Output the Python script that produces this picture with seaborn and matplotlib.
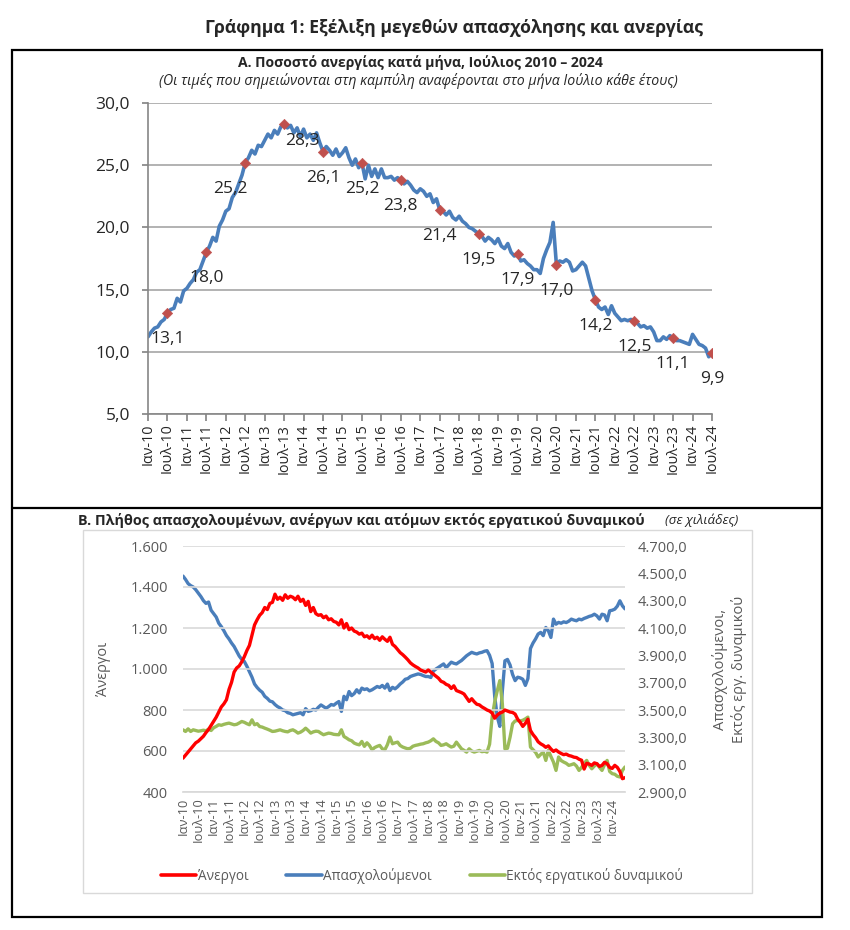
import numpy as np
import pandas as pd
import seaborn as sns
import matplotlib.pyplot as plt
from matplotlib.patches import Rectangle
from matplotlib.ticker import FuncFormatter, MultipleLocator, FixedLocator

# Ποσοστό ανεργίας (%), μηνιαία, Ιαν 2010 - Ιουλ 2024
rate_by_year = {
    2010: [11.2, 11.6, 11.9, 12.0, 12.4, 12.6, 13.1, 13.4, 13.5, 14.3, 14.0, 14.9],
    2011: [15.1, 15.5, 15.8, 16.4, 16.6, 17.3, 18.0, 18.5, 19.2, 18.9, 20.1, 20.6],
    2012: [21.3, 21.5, 22.4, 22.8, 23.5, 24.2, 25.2, 25.6, 26.2, 25.9, 26.6, 26.5],
    2013: [27.0, 27.5, 27.2, 27.8, 27.5, 28.1, 28.3, 28.0, 28.2, 27.6, 28.0, 27.3],
    2014: [27.9, 27.2, 27.5, 27.0, 27.6, 26.8, 26.1, 26.5, 26.2, 25.8, 26.3, 25.7],
    2015: [26.0, 26.4, 25.6, 25.0, 25.5, 24.8, 25.2, 23.9, 25.0, 24.1, 24.7, 24.0],
    2016: [24.7, 24.0, 24.0, 24.1, 23.8, 24.0, 23.8, 23.5, 23.7, 23.4, 23.0, 22.8],
    2017: [23.1, 22.9, 22.5, 22.7, 22.0, 22.3, 21.4, 21.3, 21.0, 21.3, 20.8, 20.6],
    2018: [20.9, 20.5, 20.3, 20.0, 19.9, 19.7, 19.5, 19.3, 18.9, 19.2, 19.0, 18.7],
    2019: [19.1, 18.5, 18.3, 18.7, 18.0, 17.7, 17.9, 17.3, 17.4, 17.1, 16.9, 16.6],
    2020: [16.6, 16.3, 17.5, 18.2, 18.8, 20.4, 17.0, 17.3, 17.2, 17.4, 17.2, 16.5],
    2021: [16.6, 16.9, 17.2, 16.9, 15.9, 14.9, 14.2, 13.6, 13.4, 13.6, 13.0, 13.7],
    2022: [13.1, 12.8, 12.5, 12.6, 12.5, 12.6, 12.5, 12.3, 12.0, 12.1, 11.9, 12.0],
    2023: [11.6, 10.9, 10.9, 11.2, 11.0, 11.3, 11.1, 10.9, 10.9, 10.8, 10.7, 10.6],
    2024: [11.4, 11.0, 10.6, 10.5, 10.3, 9.6, 9.9],
}

# Χιλιάδες ατόμων, μηνιαία, Ιαν 2010 - Ιουν 2024
unemployed_by_year = {
    2010: [565, 580, 595, 610, 625, 640, 648, 660, 672, 690, 705, 725],
    2011: [745, 765, 790, 815, 830, 850, 900, 935, 985, 1005, 1015, 1035],
    2012: [1060, 1090, 1115, 1165, 1215, 1240, 1262, 1275, 1300, 1290, 1320, 1325],
    2013: [1365, 1340, 1350, 1335, 1362, 1345, 1355, 1350, 1338, 1355, 1330, 1340],
    2014: [1310, 1330, 1280, 1300, 1270, 1262, 1265, 1250, 1258, 1240, 1245, 1232],
    2015: [1228, 1215, 1240, 1200, 1222, 1192, 1200, 1185, 1180, 1170, 1175, 1157],
    2016: [1162, 1150, 1165, 1148, 1155, 1140, 1157, 1145, 1135, 1155, 1120, 1110],
    2017: [1095, 1080, 1070, 1058, 1045, 1030, 1020, 1012, 1005, 995, 990, 985],
    2018: [995, 985, 975, 965, 955, 940, 935, 925, 920, 905, 918, 895],
    2019: [890, 885, 878, 860, 842, 855, 840, 828, 825, 815, 808, 800],
    2020: [795, 785, 760, 775, 785, 790, 800, 795, 790, 788, 780, 755],
    2021: [740, 720, 735, 755, 700, 680, 665, 645, 635, 628, 618, 625],
    2022: [610, 598, 605, 595, 588, 582, 585, 578, 575, 570, 568, 560],
    2023: [555, 512, 540, 536, 530, 542, 538, 525, 530, 545, 538, 520],
    2024: [515, 530, 520, 500, 465, 470],
}
employed_by_year = {
    2010: [4480, 4455, 4425, 4410, 4400, 4380, 4355, 4330, 4300, 4280, 4290, 4230],
    2011: [4205, 4180, 4135, 4110, 4080, 4045, 4020, 3990, 3965, 3930, 3895, 3870],
    2012: [3855, 3820, 3780, 3740, 3690, 3665, 3645, 3630, 3600, 3585, 3565, 3560],
    2013: [3540, 3525, 3515, 3500, 3495, 3480, 3475, 3465, 3470, 3475, 3480, 3465],
    2014: [3510, 3490, 3495, 3505, 3500, 3520, 3537, 3525, 3513, 3525, 3540, 3535],
    2015: [3550, 3562, 3490, 3600, 3575, 3635, 3605, 3620, 3648, 3625, 3660, 3650],
    2016: [3655, 3640, 3648, 3660, 3672, 3665, 3680, 3660, 3690, 3642, 3666, 3655],
    2017: [3670, 3690, 3705, 3725, 3730, 3745, 3752, 3758, 3764, 3760, 3752, 3745],
    2018: [3745, 3738, 3785, 3800, 3812, 3825, 3837, 3810, 3830, 3850, 3842, 3837],
    2019: [3850, 3862, 3880, 3897, 3910, 3922, 3915, 3910, 3918, 3922, 3930, 3934],
    2020: [3900, 3840, 3600, 3450, 3380, 3640, 3860, 3870, 3830, 3760, 3715, 3740],
    2021: [3735, 3725, 3680, 3730, 3950, 3990, 4020, 4056, 4068, 4044, 4104, 4080],
    2022: [4031, 4165, 4128, 4141, 4135, 4145, 4140, 4150, 4165, 4158, 4153, 4165],
    2023: [4160, 4170, 4177, 4185, 4190, 4201, 4189, 4165, 4201, 4195, 4153, 4226],
    2024: [4230, 4238, 4260, 4299, 4262, 4240],
}
inactive_by_year = {
    2010: [3355, 3343, 3362, 3343, 3355, 3350, 3345, 3348, 3352, 3348, 3360, 3350],
    2011: [3370, 3380, 3392, 3388, 3395, 3400, 3404, 3398, 3392, 3395, 3405, 3416],
    2012: [3410, 3400, 3392, 3428, 3392, 3400, 3379, 3375, 3367, 3360, 3352, 3343],
    2013: [3345, 3350, 3355, 3348, 3343, 3340, 3350, 3355, 3345, 3331, 3338, 3350],
    2014: [3367, 3350, 3331, 3340, 3345, 3343, 3330, 3319, 3325, 3331, 3328, 3322],
    2015: [3320, 3319, 3355, 3306, 3295, 3282, 3275, 3258, 3250, 3245, 3270, 3234],
    2016: [3260, 3240, 3209, 3225, 3234, 3241, 3216, 3209, 3246, 3302, 3253, 3260],
    2017: [3265, 3240, 3229, 3222, 3216, 3220, 3235, 3241, 3245, 3250, 3253, 3260],
    2018: [3265, 3275, 3289, 3270, 3260, 3241, 3245, 3253, 3240, 3229, 3235, 3265],
    2019: [3240, 3216, 3205, 3192, 3216, 3200, 3192, 3198, 3204, 3195, 3198, 3192],
    2020: [3250, 3448, 3560, 3640, 3715, 3545, 3216, 3220, 3300, 3399, 3420, 3423],
    2021: [3420, 3425, 3435, 3448, 3229, 3210, 3190, 3156, 3175, 3192, 3131, 3204],
    2022: [3160, 3119, 3058, 3156, 3130, 3119, 3110, 3095, 3100, 3107, 3090, 3058],
    2023: [3080, 3110, 3131, 3095, 3070, 3090, 3107, 3080, 3058, 3100, 3131, 3050],
    2024: [3034, 3030, 3015, 3010, 3058, 3083],
}

month_names = ["Ιαν", "Φεβ", "Μαρ", "Απρ", "Μαϊ", "Ιουν",
               "Ιουλ", "Αυγ", "Σεπ", "Οκτ", "Νοε", "Δεκ"]

BLUE = "#4A7EBB"
RED = "#FF0000"
GREEN = "#9BBB59"
MARKER = "#C0504D"
GRAY_TXT = "#595959"


def flatten(by_year):
    rows = []
    for year, vals in by_year.items():
        for m, v in enumerate(vals):
            rows.append({"year": year, "month": m, "value": v})
    df = pd.DataFrame(rows)
    df["idx"] = np.arange(len(df))
    df["label"] = [f"{month_names[m]}-{y % 100:02d}" for y, m in zip(df.year, df.month)]
    return df


def fmt_dec(v, _=None):
    return f"{v:.1f}".replace(".", ",")


def fmt_thousands(v, _=None):
    return f"{int(round(v)):,}".replace(",", ".")


def fmt_thousands_dec(v, _=None):
    s = f"{v:,.1f}"
    return s.replace(",", "X").replace(".", ",").replace("X", ".")


sns.set_theme(style="white")
plt.rcParams["font.family"] = ["Open Sans", "DejaVu Sans"]

W, H = 850, 930
fig = plt.figure(figsize=(W / 100, H / 100), dpi=100)


def fx(px):
    return px / W


def fy(py):
    return 1 - py / H


# frames
fig.add_artist(Rectangle((fx(12), fy(917)), fx(822 - 12), (917 - 50) / H,
                         transform=fig.transFigure, fill=False, lw=1.6, ec="black"))
fig.add_artist(plt.Line2D([fx(12), fx(822)], [fy(508), fy(508)],
                          transform=fig.transFigure, lw=1.6, color="black"))
fig.add_artist(Rectangle((fx(83), fy(893)), fx(752 - 83), (893 - 530) / H,
                         transform=fig.transFigure, fill=False, lw=1.0, ec="#D9D9D9"))

fig.text(fx(454), fy(28), "Γράφημα 1: Εξέλιξη μεγεθών απασχόλησης και ανεργίας",
         ha="center", va="center", fontsize=12.7, fontweight="bold")
fig.text(fx(420), fy(62), "Α. Ποσοστό ανεργίας κατά μήνα, Ιούλιος 2010 – 2024",
         ha="center", va="center", fontsize=10.1, fontweight="bold")
fig.text(fx(418), fy(81),
         "(Οι τιμές που σημειώνονται στη καμπύλη αναφέρονται στο μήνα Ιούλιο κάθε έτους)",
         ha="center", va="center", fontsize=10.2, style="italic")

# ---- Panel A ----
rate = flatten(rate_by_year)
ax1 = fig.add_axes([fx(148), fy(414), fx(712 - 148), (414 - 103) / H])
sns.lineplot(data=rate, x="idx", y="value", color=BLUE, lw=2.6, ax=ax1)
july = rate[rate.month == 6]
sns.scatterplot(data=july, x="idx", y="value", color=MARKER, marker="D", s=28,
                edgecolor=MARKER, zorder=5, ax=ax1)
nudges = {2012: (-15, 0), 2013: (18, 9)}
for _, r in july.iterrows():
    dx, dy = nudges.get(r.year, (0, 0))
    ax1.annotate(fmt_dec(r.value), (r.idx, r.value), textcoords="offset pixels",
                 xytext=(dx, -26 + dy), ha="center", va="center", fontsize=12.5)

ax1.set_xlim(0, len(rate) - 1)
ax1.set_ylim(5, 30)
ax1.yaxis.set_major_locator(MultipleLocator(5))
ax1.yaxis.set_major_formatter(FuncFormatter(fmt_dec))
ax1.grid(axis="y", color="#A6A6A6", lw=1.2)
ticks1 = rate.idx[rate.month.isin([0, 6])]
ax1.set_xticks(ticks1)
ax1.set_xticklabels(rate.label[rate.month.isin([0, 6])], rotation=90, fontsize=10.3)
ax1.tick_params(axis="y", labelsize=12.5, length=4, color="#868686", left=True, pad=9)
ax1.tick_params(axis="x", length=5, color="#868686", bottom=True, pad=2)
for s in ["top", "right"]:
    ax1.spines[s].set_visible(False)
for s in ["left", "bottom"]:
    ax1.spines[s].set_color("#868686")
    ax1.spines[s].set_linewidth(1.2)
ax1.set_xlabel("")
ax1.set_ylabel("")

# ---- Panel B ----
fig.text(fx(78), fy(520),
         "Β. Πλήθος απασχολουμένων, ανέργων και ατόμων εκτός εργατικού δυναμικού",
         ha="left", va="center", fontsize=10.4, fontweight="bold")
fig.text(fx(665), fy(520), "(σε χιλιάδες)", ha="left", va="center",
         fontsize=9.6, style="italic")

unemp = flatten(unemployed_by_year)
emp = flatten(employed_by_year)
inact = flatten(inactive_by_year)

ax2 = fig.add_axes([fx(183), fy(792), fx(625 - 183), (792 - 546) / H])
ax3 = ax2.twinx()
sns.lineplot(data=unemp, x="idx", y="value", color=RED, lw=2.4, ax=ax2, zorder=3)
sns.lineplot(data=emp, x="idx", y="value", color=BLUE, lw=2.4, ax=ax3)
sns.lineplot(data=inact, x="idx", y="value", color=GREEN, lw=2.4, ax=ax3)
ax2.set_zorder(ax3.get_zorder() + 1)
ax2.patch.set_visible(False)

ax2.set_xlim(0, len(unemp) - 1)
ax2.set_ylim(400, 1600)
ax3.set_ylim(2900, 4700)
ax2.yaxis.set_major_locator(MultipleLocator(200))
ax3.yaxis.set_major_locator(FixedLocator(np.arange(2900, 4701, 200)))
ax2.yaxis.set_major_formatter(FuncFormatter(fmt_thousands))
ax3.yaxis.set_major_formatter(FuncFormatter(fmt_thousands_dec))
ax2.grid(axis="y", color="#D9D9D9", lw=1.2)
ticks2 = unemp.idx[unemp.month.isin([0, 6])]
ax2.set_xticks(ticks2)
ax2.set_xticklabels(unemp.label[unemp.month.isin([0, 6])], rotation=90,
                    fontsize=9.2, color=GRAY_TXT)
ax2.tick_params(axis="x", length=0, pad=4)
ax2.tick_params(axis="y", labelsize=10.5, colors=GRAY_TXT, length=0, pad=11)
ax3.tick_params(axis="y", labelsize=10.5, colors=GRAY_TXT, length=0, pad=9)
for a in (ax2, ax3):
    for s in a.spines.values():
        s.set_visible(False)
ax2.spines["bottom"].set_visible(True)
ax2.spines["bottom"].set_color("#D9D9D9")
ax2.set_xlabel("")
ax3.set_xlabel("")
ax2.set_ylabel("Άνεργοι", fontsize=10.5, color=GRAY_TXT, labelpad=14)
ax3.set_ylabel("Απασχολούμενοι,\nΕκτός εργ. δυναμικού", fontsize=10.5,
               color=GRAY_TXT, labelpad=18)

handles = [plt.Line2D([], [], color=c, lw=2.6) for c in (RED, BLUE, GREEN)]
fig.legend(handles, ["Άνεργοι", "Απασχολούμενοι", "Εκτός εργατικού δυναμικού"],
           loc="center", bbox_to_anchor=(fx(422), fy(876)), ncol=3, frameon=False,
           fontsize=9.8, handlelength=2.6, handletextpad=0.1, columnspacing=2.8,
           labelcolor=GRAY_TXT)

fig.savefig("out.png", dpi=100)
